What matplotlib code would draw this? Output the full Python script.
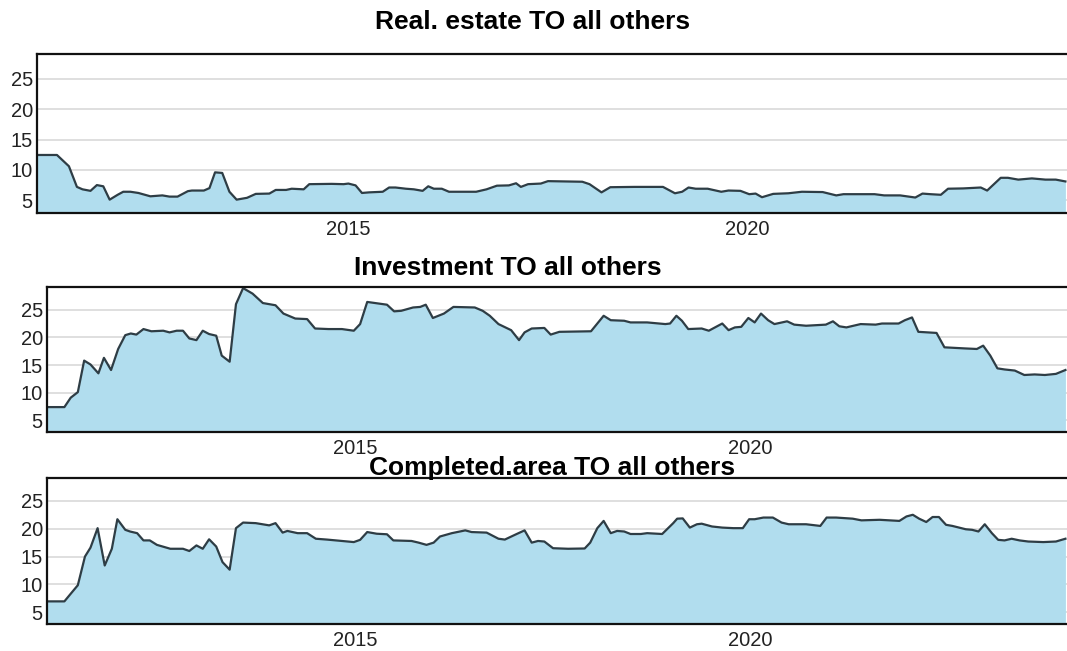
import matplotlib.pyplot as plt

plt.rcParams['font.family'] = ['Liberation Sans', 'DejaVu Sans']

# spillover index (decimal years)
re_year = [2011.10, 2011.35, 2011.50, 2011.60, 2011.67, 2011.77, 2011.85, 2011.93, 2012.01, 2012.11,
           2012.18, 2012.27, 2012.37, 2012.52, 2012.67, 2012.76, 2012.86, 2012.99, 2013.04, 2013.19,
           2013.26, 2013.33, 2013.42, 2013.51, 2013.60, 2013.73, 2013.84, 2014.01, 2014.09, 2014.22,
           2014.29, 2014.44, 2014.51, 2014.79, 2014.94, 2015.00, 2015.09, 2015.17, 2015.26, 2015.43,
           2015.51, 2015.59, 2015.72, 2015.82, 2015.93, 2016.00, 2016.07, 2016.17, 2016.26, 2016.39,
           2016.60, 2016.73, 2016.86, 2017.01, 2017.10, 2017.16, 2017.25, 2017.41, 2017.50, 2017.93,
           2018.02, 2018.17, 2018.28, 2018.58, 2018.94, 2019.09, 2019.18, 2019.26, 2019.35, 2019.50,
           2019.67, 2019.76, 2019.91, 2020.02, 2020.10, 2020.18, 2020.32, 2020.51, 2020.68, 2020.94,
           2021.11, 2021.20, 2021.59, 2021.71, 2021.91, 2022.10, 2022.19, 2022.29, 2022.42, 2022.51,
           2022.70, 2022.92, 2023.00, 2023.17, 2023.26, 2023.39, 2023.56, 2023.73, 2023.86, 2023.98]
re_val = [12.46, 12.46, 10.6, 7.2, 6.8, 6.55, 7.5, 7.3, 5.1, 5.9,
          6.4, 6.4, 6.2, 5.65, 5.8, 5.6, 5.6, 6.5, 6.6, 6.6,
          7.0, 9.6, 9.5, 6.4, 5.1, 5.4, 6.05, 6.1, 6.7, 6.7,
          6.9, 6.8, 7.65, 7.7, 7.65, 7.75, 7.45, 6.2, 6.3, 6.4,
          7.1, 7.1, 6.9, 6.8, 6.55, 7.3, 6.9, 6.9, 6.4, 6.4,
          6.4, 6.8, 7.4, 7.45, 7.8, 7.2, 7.65, 7.75, 8.15, 8.05,
          7.65, 6.3, 7.15, 7.2, 7.2, 6.15, 6.4, 7.1, 6.9, 6.9,
          6.4, 6.6, 6.55, 6.0, 6.1, 5.5, 6.05, 6.15, 6.4, 6.35,
          5.8, 6.0, 6.0, 5.8, 5.8, 5.45, 6.1, 6.0, 5.9, 6.9,
          6.95, 7.1, 6.6, 8.7, 8.7, 8.4, 8.6, 8.4, 8.4, 8.1]

inv_year = [2011.10, 2011.32, 2011.40, 2011.49, 2011.57, 2011.65, 2011.75, 2011.82, 2011.91, 2012.00,
            2012.09, 2012.16, 2012.23, 2012.32, 2012.42, 2012.57, 2012.65, 2012.74, 2012.82, 2012.90,
            2012.99, 2013.07, 2013.15, 2013.24, 2013.31, 2013.41, 2013.49, 2013.58, 2013.70, 2013.83,
            2013.99, 2014.09, 2014.24, 2014.39, 2014.49, 2014.66, 2014.83, 2014.98, 2015.06, 2015.15,
            2015.40, 2015.49, 2015.58, 2015.73, 2015.82, 2015.89, 2015.98, 2016.12, 2016.24, 2016.51,
            2016.61, 2016.70, 2016.81, 2016.97, 2017.07, 2017.14, 2017.23, 2017.39, 2017.47, 2017.58,
            2017.98, 2018.06, 2018.14, 2018.23, 2018.40, 2018.48, 2018.69, 2018.92, 2018.98, 2019.06,
            2019.13, 2019.21, 2019.38, 2019.47, 2019.64, 2019.72, 2019.80, 2019.88, 2019.97, 2020.05,
            2020.13, 2020.22, 2020.30, 2020.46, 2020.55, 2020.70, 2020.95, 2021.04, 2021.12, 2021.21,
            2021.39, 2021.58, 2021.66, 2021.87, 2021.95, 2022.04, 2022.12, 2022.35, 2022.45, 2022.71,
            2022.86, 2022.94, 2023.03, 2023.12, 2023.21, 2023.34, 2023.46, 2023.59, 2023.72, 2023.86,
            2023.98]
inv_val = [7.4, 7.4, 9.1, 10.1, 15.8, 15.1, 13.5, 16.3, 14.1, 17.9,
           20.4, 20.7, 20.5, 21.5, 21.1, 21.2, 20.9, 21.2, 21.2, 19.8,
           19.5, 21.2, 20.6, 20.3, 16.7, 15.6, 26.0, 28.9, 27.9, 26.2,
           25.8, 24.3, 23.4, 23.3, 21.6, 21.5, 21.5, 21.2, 22.4, 26.4,
           25.9, 24.7, 24.8, 25.4, 25.5, 25.9, 23.5, 24.3, 25.5, 25.4,
           24.8, 23.9, 22.4, 21.3, 19.5, 20.9, 21.6, 21.7, 20.5, 21.0,
           21.1, 22.5, 23.9, 23.1, 23.0, 22.7, 22.7, 22.4, 22.5, 23.9,
           23.0, 21.5, 21.6, 21.2, 22.5, 21.3, 21.8, 21.9, 23.5, 22.7,
           24.3, 23.1, 22.4, 22.9, 22.3, 22.1, 22.3, 22.9, 22.0, 21.8,
           22.4, 22.3, 22.5, 22.5, 23.1, 23.6, 21.0, 20.8, 18.2, 18.0,
           17.9, 18.5, 16.7, 14.4, 14.2, 14.0, 13.2, 13.3, 13.2, 13.4,
           14.1]

ca_year = [2011.10, 2011.32, 2011.41, 2011.49, 2011.58, 2011.65, 2011.74, 2011.83, 2011.92, 2011.99,
           2012.09, 2012.15, 2012.24, 2012.32, 2012.40, 2012.49, 2012.66, 2012.82, 2012.90, 2012.99,
           2013.07, 2013.15, 2013.24, 2013.32, 2013.41, 2013.49, 2013.58, 2013.74, 2013.91, 2013.99,
           2014.08, 2014.14, 2014.27, 2014.39, 2014.50, 2014.64, 2014.83, 2014.98, 2015.06, 2015.15,
           2015.27, 2015.40, 2015.48, 2015.71, 2015.80, 2015.90, 2015.99, 2016.07, 2016.22, 2016.39,
           2016.47, 2016.66, 2016.81, 2016.89, 2017.04, 2017.14, 2017.23, 2017.31, 2017.39, 2017.50,
           2017.69, 2017.90, 2017.97, 2018.06, 2018.14, 2018.23, 2018.31, 2018.40, 2018.48, 2018.61,
           2018.69, 2018.88, 2019.02, 2019.07, 2019.14, 2019.23, 2019.32, 2019.38, 2019.51, 2019.64,
           2019.78, 2019.90, 2019.98, 2020.05, 2020.16, 2020.28, 2020.39, 2020.48, 2020.70, 2020.88,
           2020.96, 2021.08, 2021.29, 2021.40, 2021.63, 2021.88, 2021.97, 2022.05, 2022.13, 2022.22,
           2022.30, 2022.38, 2022.47, 2022.55, 2022.72, 2022.80, 2022.88, 2022.96, 2023.05, 2023.13,
           2023.21, 2023.30, 2023.40, 2023.51, 2023.70, 2023.86, 2023.98]
ca_val = [6.96, 6.96, 8.5, 9.86, 15.0, 16.6, 20.1, 13.4, 16.4, 21.7,
          19.8, 19.5, 19.2, 17.9, 17.9, 17.1, 16.4, 16.4, 16.0, 17.0,
          16.4, 18.1, 16.8, 14.0, 12.65, 20.1, 21.1, 21.0, 20.6, 21.0,
          19.3, 19.6, 19.2, 19.2, 18.2, 18.05, 17.8, 17.6, 18.0, 19.4,
          19.1, 19.0, 17.9, 17.8, 17.5, 17.1, 17.5, 18.6, 19.2, 19.7,
          19.4, 19.3, 18.2, 18.05, 19.05, 19.7, 17.5, 17.8, 17.7, 16.5,
          16.4, 16.45, 17.5, 20.1, 21.4, 19.2, 19.6, 19.5, 19.05, 19.05,
          19.2, 19.05, 21.0, 21.8, 21.85, 20.2, 20.8, 20.9, 20.4, 20.2,
          20.1, 20.1, 21.7, 21.7, 22.0, 22.0, 21.1, 20.8, 20.8, 20.5,
          22.0, 22.0, 21.8, 21.5, 21.6, 21.4, 22.2, 22.5, 21.8, 21.2,
          22.1, 22.1, 20.7, 20.5, 19.9, 19.8, 19.5, 20.8, 19.2, 18.0,
          17.9, 18.2, 17.9, 17.7, 17.6, 17.7, 18.2]

titles = ['Real. estate TO all others', 'Investment TO all others', 'Completed.area TO all others']
yticks = [5, 10, 15, 20, 25]
xticks = [2015, 2020]

W, H = 1067, 651
fig = plt.figure(figsize=(W / 100, H / 100), dpi=100)

# axes boxes in pixels: left, top, bottom ; title centre x, y
boxes = [(37, 54, 213, 533, 22),
         (47, 287, 432, 508, 268),
         (47, 478, 624, 552, 468)]
series = [(re_year, re_val), (inv_year, inv_val), (ca_year, ca_val)]

fill_col = '#b1ddee'
line_col = '#2e3d45'

for (l, t, b, tx, ty), (xs, ys), title in zip(boxes, series, titles):
    ax = fig.add_axes([l / W, 1 - b / H, 1 - l / W, (b - t) / H])
    ax.fill_between(xs, ys, 0, color=fill_col, lw=0)
    ax.plot(xs, ys, color=line_col, lw=1.6)
    ax.set_xlim(2011.1, 2024.0)
    ax.set_ylim(2.9, 29.1)
    ax.set_yticks(yticks)
    ax.set_xticks(xticks)
    ax.set_xticklabels([str(v) for v in xticks])
    ax.tick_params(length=0, labelsize=14.5, colors='#222222')
    ax.tick_params(axis='x', pad=5)
    ax.tick_params(axis='y', pad=3)
    ax.grid(axis='y', color='#dcdcdc', lw=1.3)
    ax.set_axisbelow(True)
    ax.spines['right'].set_visible(False)
    for s in ['left', 'top', 'bottom']:
        ax.spines[s].set_linewidth(1.6)
        ax.spines[s].set_color('#111111')
    fig.text(tx / W, 1 - ty / H, title, ha='center', va='center',
             fontsize=19, fontweight='bold')

fig.savefig('out.png', dpi=100)
